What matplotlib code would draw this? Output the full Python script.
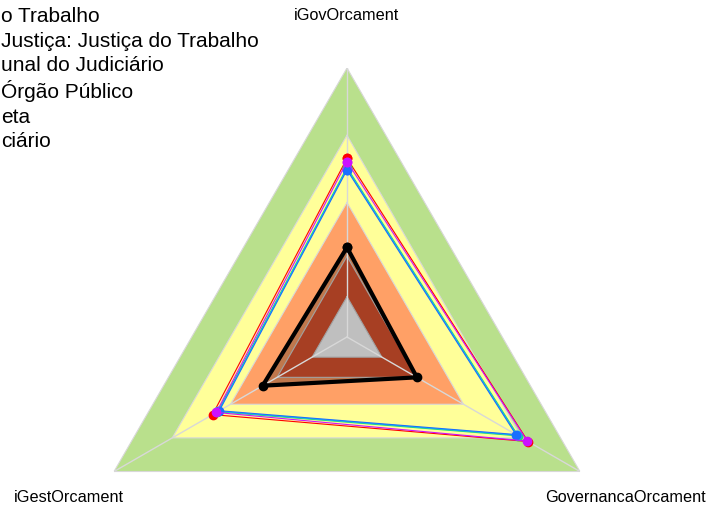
import numpy as np
import matplotlib.pyplot as plt

plt.rcParams['font.family'] = ['Liberation Sans', 'DejaVu Sans']

# Axes of the radar (clockwise from the top)
categories = ['iGovOrcament', 'GovernancaOrcament', 'iGestOrcament']

# Background bands: (upper limit, colour), drawn from outside in
band_levels = [1.0, 0.75, 0.5, 0.3, 0.15]
band_colors = ['#b9e08c', '#ffff99', '#ffa066', '#e0552f', '#ffffff']

# Series (legend text as it shows in the picture, the left part is cut off)
labels = ['o Trabalho', 'Justiça: Justiça do Trabalho', 'unal do Judiciário',
          'Órgão Público', 'eta', 'ciário']
s_black = [0.333, 0.300, 0.362]
s_red = [0.664, 0.777, 0.577]
s_green = [0.630, 0.735, 0.556]
s_cyan = [0.626, 0.730, 0.552]
s_blue = [0.621, 0.725, 0.548]
s_magenta = [0.652, 0.774, 0.561]

angles = np.linspace(0, 2 * np.pi, len(categories), endpoint=False)
ang = np.append(angles, angles[0])

def closed(v):
    return np.append(v, v[0])

fig = plt.figure(figsize=(7.07, 5.11), dpi=100)
ax = fig.add_axes([0.1103, -0.186, 0.761, 1.053], projection='polar')
ax.set_theta_offset(np.pi / 2)
ax.set_theta_direction(-1)
ax.set_ylim(0, 1)
ax.set_axis_off()

# bands
for lvl, col in zip(band_levels, band_colors):
    ax.fill(ang, [lvl] * 4, color=col, lw=0, zorder=1)
    ax.plot(ang, [lvl] * 4, color='#d8d8d8', lw=0.8, zorder=2)

# black series fill (shades whatever is below)
ax.fill(ang, closed(s_black), color='black', alpha=0.25, lw=0, zorder=3)

# spokes
for a in angles:
    ax.plot([a, a], [0, 1], color='#d8d8d8', lw=1, zorder=4)

handles = []
h, = ax.plot(ang, closed(s_black), color='black', lw=3, marker='o', ms=6, zorder=7)
handles.append(h)
series = [(s_red, '#ff0000'), (s_green, '#22dd66'), (s_cyan, '#11bbee'),
          (s_blue, '#1a6fff'), (s_magenta, '#cc11ff')]
for vals, col in series:
    h, = ax.plot(ang, closed(vals), color=col, lw=0.8, marker='o', ms=6, zorder=5)
    handles.append(h)

# axis labels
for a, name in zip(angles, categories):
    ax.text(a, 1.195, name, ha='center', va='center', fontsize=11.7, clip_on=False)

fig.legend(handles, labels, loc='upper left', bbox_to_anchor=(-0.081, 0.986),
           frameon=False, fontsize=15, borderaxespad=0, borderpad=0,
           handlelength=2, handletextpad=0.8, labelspacing=0.26)

plt.savefig('out.png', dpi=100)
